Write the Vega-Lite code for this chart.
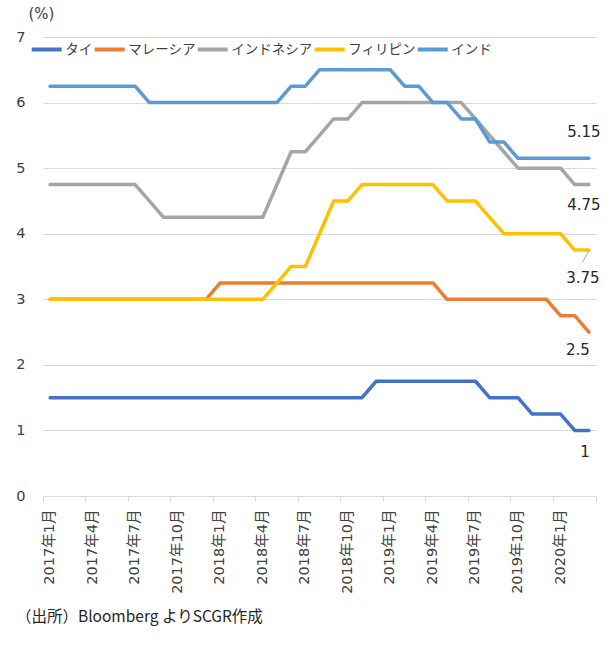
{
  "$schema": "https://vega.github.io/schema/vega-lite/v6.json",
  "width": 553,
  "height": 459,
  "autosize": {"type": "none"},
  "padding": {"left": 43, "top": 37, "right": 16, "bottom": 156},
  "background": "white",
  "config": {"view": {"stroke": null}, "font": "Noto Sans CJK JP"},
  "title": {"text": "（出所）Bloomberg よりSCGR作成", "orient": "bottom", "anchor": "start", "frame": "group", "dx": -27, "offset": 17, "font": "Noto Sans CJK JP", "fontSize": 15.5, "fontWeight": "normal", "color": "#262626"},
  "data": {"values": [
    {"m": "2017年1月", "タイ": 1.5, "マレーシア": 3, "インドネシア": 4.75, "フィリピン": 3, "インド": 6.25},
    {"m": "2017年2月", "タイ": 1.5, "マレーシア": 3, "インドネシア": 4.75, "フィリピン": 3, "インド": 6.25},
    {"m": "2017年3月", "タイ": 1.5, "マレーシア": 3, "インドネシア": 4.75, "フィリピン": 3, "インド": 6.25},
    {"m": "2017年4月", "タイ": 1.5, "マレーシア": 3, "インドネシア": 4.75, "フィリピン": 3, "インド": 6.25},
    {"m": "2017年5月", "タイ": 1.5, "マレーシア": 3, "インドネシア": 4.75, "フィリピン": 3, "インド": 6.25},
    {"m": "2017年6月", "タイ": 1.5, "マレーシア": 3, "インドネシア": 4.75, "フィリピン": 3, "インド": 6.25},
    {"m": "2017年7月", "タイ": 1.5, "マレーシア": 3, "インドネシア": 4.75, "フィリピン": 3, "インド": 6.25},
    {"m": "2017年8月", "タイ": 1.5, "マレーシア": 3, "インドネシア": 4.5, "フィリピン": 3, "インド": 6},
    {"m": "2017年9月", "タイ": 1.5, "マレーシア": 3, "インドネシア": 4.25, "フィリピン": 3, "インド": 6},
    {"m": "2017年10月", "タイ": 1.5, "マレーシア": 3, "インドネシア": 4.25, "フィリピン": 3, "インド": 6},
    {"m": "2017年11月", "タイ": 1.5, "マレーシア": 3, "インドネシア": 4.25, "フィリピン": 3, "インド": 6},
    {"m": "2017年12月", "タイ": 1.5, "マレーシア": 3, "インドネシア": 4.25, "フィリピン": 3, "インド": 6},
    {"m": "2018年1月", "タイ": 1.5, "マレーシア": 3.25, "インドネシア": 4.25, "フィリピン": 3, "インド": 6},
    {"m": "2018年2月", "タイ": 1.5, "マレーシア": 3.25, "インドネシア": 4.25, "フィリピン": 3, "インド": 6},
    {"m": "2018年3月", "タイ": 1.5, "マレーシア": 3.25, "インドネシア": 4.25, "フィリピン": 3, "インド": 6},
    {"m": "2018年4月", "タイ": 1.5, "マレーシア": 3.25, "インドネシア": 4.25, "フィリピン": 3, "インド": 6},
    {"m": "2018年5月", "タイ": 1.5, "マレーシア": 3.25, "インドネシア": 4.75, "フィリピン": 3.25, "インド": 6},
    {"m": "2018年6月", "タイ": 1.5, "マレーシア": 3.25, "インドネシア": 5.25, "フィリピン": 3.5, "インド": 6.25},
    {"m": "2018年7月", "タイ": 1.5, "マレーシア": 3.25, "インドネシア": 5.25, "フィリピン": 3.5, "インド": 6.25},
    {"m": "2018年8月", "タイ": 1.5, "マレーシア": 3.25, "インドネシア": 5.5, "フィリピン": 4, "インド": 6.5},
    {"m": "2018年9月", "タイ": 1.5, "マレーシア": 3.25, "インドネシア": 5.75, "フィリピン": 4.5, "インド": 6.5},
    {"m": "2018年10月", "タイ": 1.5, "マレーシア": 3.25, "インドネシア": 5.75, "フィリピン": 4.5, "インド": 6.5},
    {"m": "2018年11月", "タイ": 1.5, "マレーシア": 3.25, "インドネシア": 6, "フィリピン": 4.75, "インド": 6.5},
    {"m": "2018年12月", "タイ": 1.75, "マレーシア": 3.25, "インドネシア": 6, "フィリピン": 4.75, "インド": 6.5},
    {"m": "2019年1月", "タイ": 1.75, "マレーシア": 3.25, "インドネシア": 6, "フィリピン": 4.75, "インド": 6.5},
    {"m": "2019年2月", "タイ": 1.75, "マレーシア": 3.25, "インドネシア": 6, "フィリピン": 4.75, "インド": 6.25},
    {"m": "2019年3月", "タイ": 1.75, "マレーシア": 3.25, "インドネシア": 6, "フィリピン": 4.75, "インド": 6.25},
    {"m": "2019年4月", "タイ": 1.75, "マレーシア": 3.25, "インドネシア": 6, "フィリピン": 4.75, "インド": 6},
    {"m": "2019年5月", "タイ": 1.75, "マレーシア": 3, "インドネシア": 6, "フィリピン": 4.5, "インド": 6},
    {"m": "2019年6月", "タイ": 1.75, "マレーシア": 3, "インドネシア": 6, "フィリピン": 4.5, "インド": 5.75},
    {"m": "2019年7月", "タイ": 1.75, "マレーシア": 3, "インドネシア": 5.75, "フィリピン": 4.5, "インド": 5.75},
    {"m": "2019年8月", "タイ": 1.5, "マレーシア": 3, "インドネシア": 5.5, "フィリピン": 4.25, "インド": 5.4},
    {"m": "2019年9月", "タイ": 1.5, "マレーシア": 3, "インドネシア": 5.25, "フィリピン": 4, "インド": 5.4},
    {"m": "2019年10月", "タイ": 1.5, "マレーシア": 3, "インドネシア": 5, "フィリピン": 4, "インド": 5.15},
    {"m": "2019年11月", "タイ": 1.25, "マレーシア": 3, "インドネシア": 5, "フィリピン": 4, "インド": 5.15},
    {"m": "2019年12月", "タイ": 1.25, "マレーシア": 3, "インドネシア": 5, "フィリピン": 4, "インド": 5.15},
    {"m": "2020年1月", "タイ": 1.25, "マレーシア": 2.75, "インドネシア": 5, "フィリピン": 4, "インド": 5.15},
    {"m": "2020年2月", "タイ": 1, "マレーシア": 2.75, "インドネシア": 4.75, "フィリピン": 3.75, "インド": 5.15},
    {"m": "2020年3月", "タイ": 1, "マレーシア": 2.5, "インドネシア": 4.75, "フィリピン": 3.75, "インド": 5.15}
  ]},
  "transform": [{"fold": ["タイ", "マレーシア", "インドネシア", "フィリピン", "インド"], "as": ["country", "rate"]}],
  "encoding": {
    "x": {"field": "m", "type": "ordinal", "sort": null, "bandPosition": 0.5, "scale": {"type": "band", "paddingInner": 0, "paddingOuter": 0}, "axis": null},
    "y": {"field": "rate", "type": "quantitative", "scale": {"domain": [0, 7], "nice": false, "zero": true},
      "axis": {"title": "(%)", "titleAngle": 0, "titleAlign": "center", "titleBaseline": "middle", "titleX": -2, "titleY": -24, "titleFont": "DejaVu Sans", "titleFontSize": 15, "titleFontWeight": "normal", "titleColor": "#404040",
        "values": [0, 1, 2, 3, 4, 5, 6, 7], "labelFont": "DejaVu Sans", "labelFontSize": 14.5, "labelColor": "#404040", "labelPadding": 18, "ticks": false, "domain": false, "grid": true, "gridColor": "#D9D9D9", "gridWidth": 1}}
  },
  "layer": [
    {
      "mark": {"type": "line", "strokeWidth": 3.5, "strokeCap": "round", "strokeJoin": "round"},
      "encoding": {
        "x": {"field": "m", "type": "ordinal", "sort": null, "bandPosition": 0.5, "scale": {"type": "band", "paddingInner": 0, "paddingOuter": 0},
          "axis": {"values": ["2017年1月", "2017年4月", "2017年7月", "2017年10月", "2018年1月", "2018年4月", "2018年7月", "2018年10月", "2019年1月", "2019年4月", "2019年7月", "2019年10月", "2020年1月"],
            "bandPosition": 0, "tickExtra": false, "title": null, "grid": false, "labelAngle": -90, "labelFont": "DejaVu Sans, Noto Sans CJK JP", "labelFontSize": 14.5, "labelColor": "#404040", "labelPadding": 8, "tickSize": 5, "tickColor": "#D9D9D9", "domainColor": "#D9D9D9", "labelOverlap": false}},
        "color": {"field": "country", "type": "nominal",
          "scale": {"domain": ["タイ", "マレーシア", "インドネシア", "フィリピン", "インド"], "range": ["#4472C4", "#ED7D31", "#A5A5A5", "#FFC000", "#5B9BD5"]},
          "legend": {"orient": "none", "legendX": -13.3, "legendY": -4.5, "direction": "horizontal", "title": null, "padding": 0, "symbolType": "stroke", "symbolSize": 900, "symbolStrokeWidth": 4, "labelFont": "Noto Sans CJK JP", "labelFontSize": 13.5, "labelColor": "#404040", "labelOffset": 1.5, "columnPadding": -6}}
      }
    },
    {
      "transform": [{"filter": "datum.m === '2020年3月' && datum.country === 'フィリピン'"}],
      "mark": {"type": "rule", "color": "#A6A6A6", "strokeWidth": 1, "yOffset": 1, "x2Offset": -6.5, "y2Offset": 12},
      "encoding": {
        "x": {"field": "m", "type": "ordinal", "sort": null, "bandPosition": 0.5, "scale": {"type": "band", "paddingInner": 0, "paddingOuter": 0},
          "axis": {"orient": "bottom", "values": ["2020年3月"], "bandPosition": 1, "tickExtra": false, "labels": false, "domain": false, "grid": false, "title": null, "tickSize": 5, "tickColor": "#D9D9D9"}},
        "x2": {"field": "m"},
        "y2": {"field": "rate"}
      }
    },
    {
      "transform": [{"filter": "datum.m === '2020年3月' && datum.country === 'インド'"}],
      "mark": {"type": "text", "font": "DejaVu Sans", "fontSize": 15, "dx": -5, "dy": -26, "color": "#262626"},
      "encoding": {"text": {"field": "rate", "type": "quantitative", "format": "~g"}}
    },
    {
      "transform": [{"filter": "datum.m === '2020年3月' && datum.country === 'インドネシア'"}],
      "mark": {"type": "text", "font": "DejaVu Sans", "fontSize": 15, "dx": -5, "dy": 20, "color": "#262626"},
      "encoding": {"text": {"field": "rate", "type": "quantitative", "format": "~g"}}
    },
    {
      "transform": [{"filter": "datum.m === '2020年3月' && datum.country === 'タイ'"}],
      "mark": {"type": "text", "font": "DejaVu Sans", "fontSize": 15, "dx": -4, "dy": 22, "color": "#262626"},
      "encoding": {"text": {"field": "rate", "type": "quantitative", "format": "~g"}}
    },
    {
      "transform": [{"filter": "datum.m === '2020年3月' && datum.country === 'フィリピン'"}],
      "mark": {"type": "text", "font": "DejaVu Sans", "fontSize": 15, "dx": -6, "dy": 28, "color": "#262626"},
      "encoding": {"text": {"field": "rate", "type": "quantitative", "format": "~g"}}
    },
    {
      "transform": [{"filter": "datum.m === '2020年3月' && datum.country === 'マレーシア'"}],
      "mark": {"type": "text", "font": "DejaVu Sans", "fontSize": 15, "dx": -11, "dy": 18, "color": "#262626"},
      "encoding": {"text": {"field": "rate", "type": "quantitative", "format": "~g"}}
    }
  ],
  "resolve": {"axis": {"x": "independent"}}
}
